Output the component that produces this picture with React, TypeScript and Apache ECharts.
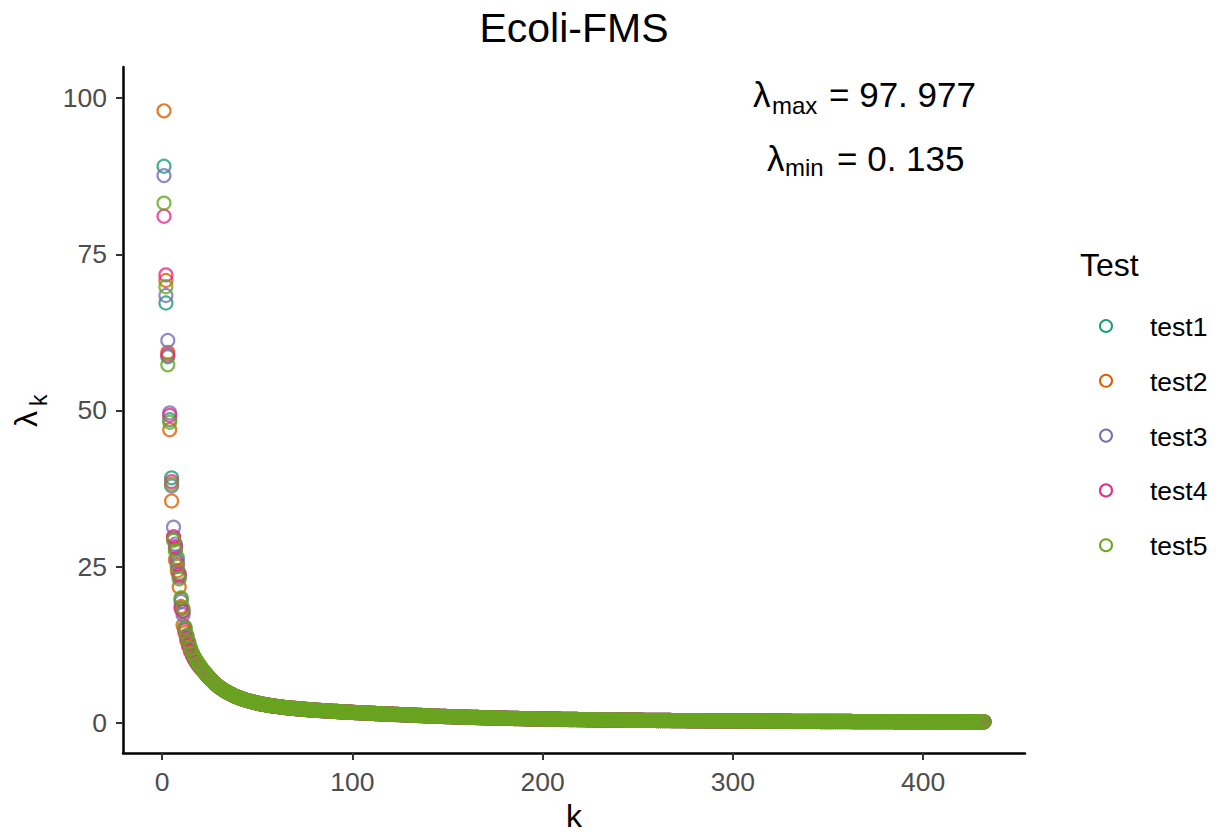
import React, { useEffect, useRef } from "react";
import * as echarts from "echarts";

// ---------- data ----------
const TITLE = "Ecoli-FMS";
const TESTS = ["test1", "test2", "test3", "test4", "test5"];
const COLORS = ["#1B9E77", "#D95F02", "#7570B3", "#E7298A", "#66A61E"];
const X_TICKS = [0, 100, 200, 300, 400];
const Y_TICKS = [0, 25, 50, 75, 100];
const LAMBDA_MAX = "97. 977";
const LAMBDA_MIN = "0. 135";

// eigenvalues for k = 1..20, per test
const HEAD_TEST1 = [89.1, 67.2, 58.6, 48.5, 39.2, 29.4, 27.9, 26.4, 23.9, 19.8, 17.9, 15.3, 13.9, 12.7, 11.8, 11.0, 10.4, 9.8, 9.4, 8.9];
const HEAD_TEST2 = [97.977, 70.8, 59.3, 46.9, 35.5, 29.6, 26.1, 24.3, 21.7, 18.6, 15.6, 14.4, 13.1, 12.2, 11.4, 10.7, 10.1, 9.6, 9.2, 8.8];
const HEAD_TEST3 = [87.6, 68.4, 61.2, 49.6, 37.9, 31.3, 28.6, 25.8, 23.3, 19.4, 17.3, 15.0, 13.7, 12.8, 11.6, 10.9, 10.3, 9.7, 9.3, 8.9];
const HEAD_TEST4 = [81.1, 71.7, 58.9, 49.2, 38.6, 29.8, 28.2, 25.3, 23.6, 18.3, 17.8, 14.8, 13.5, 12.4, 11.5, 10.8, 10.3, 9.9, 9.4, 9.0];
const HEAD_TEST5 = [83.2, 69.8, 57.3, 48.1, 38.2, 29.2, 27.5, 25.0, 23.0, 20.0, 18.3, 15.1, 14.0, 12.9, 11.9, 11.1, 10.5, 10.0, 9.5, 9.1];

// eigenvalues for k = 21..432 (all tests overlap in this range)
const TAIL = [
  8.55, 8.15, 7.8, 7.45, 7.1, 6.8, 6.5, 6.2, 5.95, 5.7,
  5.5, 5.3, 5.1, 4.92, 4.75, 4.6, 4.45, 4.3, 4.17, 4.05,
  3.93, 3.82, 3.72, 3.62, 3.53, 3.44, 3.36, 3.28, 3.2, 3.13,
  3.06, 3.0, 2.94, 2.88, 2.83, 2.78, 2.73, 2.68, 2.64, 2.6,
  2.56, 2.52, 2.48, 2.45, 2.41, 2.38, 2.35, 2.32, 2.29, 2.26,
  2.23, 2.2, 2.18, 2.15, 2.13, 2.1, 2.08, 2.05, 2.03, 2.01,
  1.99, 1.97, 1.95, 1.93, 1.91, 1.89, 1.87, 1.85, 1.83, 1.81,
  1.8, 1.78, 1.76, 1.74, 1.73, 1.71, 1.69, 1.68, 1.66, 1.65,
  1.63, 1.61, 1.6, 1.58, 1.57, 1.55, 1.54, 1.52, 1.51, 1.49,
  1.48, 1.46, 1.45, 1.43, 1.42, 1.41, 1.39, 1.38, 1.37, 1.35,
  1.34, 1.32, 1.31, 1.3, 1.28, 1.27, 1.26, 1.24, 1.23, 1.22,
  1.2, 1.19, 1.18, 1.16, 1.15, 1.14, 1.12, 1.11, 1.1, 1.08,
  1.07, 1.06, 1.05, 1.03, 1.02, 1.01, 1.0, 0.99, 0.98, 0.97,
  0.96, 0.95, 0.94, 0.93, 0.92, 0.91, 0.9, 0.89, 0.88, 0.87,
  0.86, 0.85, 0.84, 0.84, 0.83, 0.82, 0.81, 0.8, 0.79, 0.78,
  0.78, 0.77, 0.76, 0.75, 0.74, 0.74, 0.73, 0.72, 0.71, 0.71,
  0.7, 0.69, 0.69, 0.68, 0.67, 0.67, 0.66, 0.65, 0.65, 0.64,
  0.63, 0.63, 0.62, 0.62, 0.61, 0.6, 0.6, 0.59, 0.59, 0.58,
  0.58, 0.57, 0.57, 0.56, 0.56, 0.55, 0.55, 0.54, 0.54, 0.53,
  0.53, 0.52, 0.52, 0.51, 0.51, 0.5, 0.5, 0.5, 0.49, 0.49,
  0.48, 0.48, 0.47, 0.47, 0.47, 0.46, 0.46, 0.45, 0.45, 0.45,
  0.44, 0.44, 0.44, 0.43, 0.43, 0.43, 0.42, 0.42, 0.42, 0.41,
  0.41, 0.41, 0.4, 0.4, 0.4, 0.39, 0.39, 0.39, 0.38, 0.38,
  0.38, 0.38, 0.37, 0.37, 0.37, 0.36, 0.36, 0.36, 0.36, 0.35,
  0.35, 0.35, 0.35, 0.34, 0.34, 0.34, 0.34, 0.33, 0.33, 0.33,
  0.33, 0.32, 0.32, 0.32, 0.32, 0.31, 0.31, 0.31, 0.31, 0.31,
  0.3, 0.3, 0.3, 0.3, 0.29, 0.29, 0.29, 0.29, 0.29, 0.28,
  0.28, 0.28, 0.28, 0.28, 0.27, 0.27, 0.27, 0.27, 0.27, 0.26,
  0.26, 0.26, 0.26, 0.26, 0.26, 0.25, 0.25, 0.25, 0.25, 0.25,
  0.25, 0.24, 0.24, 0.24, 0.24, 0.24, 0.24, 0.23, 0.23, 0.23,
  0.23, 0.23, 0.23, 0.22, 0.22, 0.22, 0.22, 0.22, 0.22, 0.22,
  0.21, 0.21, 0.21, 0.21, 0.21, 0.21, 0.21, 0.2, 0.2, 0.2,
  0.2, 0.2, 0.2, 0.2, 0.2, 0.19, 0.19, 0.19, 0.19, 0.19,
  0.19, 0.19, 0.19, 0.18, 0.18, 0.18, 0.18, 0.18, 0.18, 0.18,
  0.18, 0.18, 0.17, 0.17, 0.17, 0.17, 0.17, 0.17, 0.17, 0.17,
  0.17, 0.17, 0.16, 0.16, 0.16, 0.16, 0.16, 0.16, 0.16, 0.16,
  0.16, 0.16, 0.16, 0.16, 0.15, 0.15, 0.15, 0.15, 0.15, 0.15,
  0.15, 0.15, 0.15, 0.15, 0.15, 0.15, 0.15, 0.15, 0.14, 0.14,
  0.14, 0.14, 0.14, 0.14, 0.14, 0.14, 0.14, 0.14, 0.14, 0.14,
  0.14, 0.14, 0.14, 0.14, 0.14, 0.14, 0.14, 0.14, 0.14, 0.14,
  0.14, 0.14, 0.14, 0.14, 0.14, 0.14, 0.14, 0.14, 0.14, 0.14, 0.14, 0.135,
];

const HEADS = [HEAD_TEST1, HEAD_TEST2, HEAD_TEST3, HEAD_TEST4, HEAD_TEST5];

const FONT = "'Liberation Sans', Arial, Helvetica, sans-serif";

export default function App() {
  const ref = useRef<HTMLDivElement>(null);

  useEffect(() => {
    document.body.style.margin = "0";
    if (!ref.current) return;
    const chart = echarts.init(ref.current, undefined, { renderer: "svg" });

    const allValues = HEADS.map((h) => h.concat(TAIL));
    const n = allValues[0].length;
    let vmin = Infinity;
    let vmax = -Infinity;
    allValues.forEach((arr) => arr.forEach((v) => { vmin = Math.min(vmin, v); vmax = Math.max(vmax, v); }));
    vmax = Math.max(vmax, 100); // annotation extends the scale to 100
    const xr = n - 1;
    const yr = vmax - vmin;
    const xMin = 1 - 0.05 * xr;
    const xMax = n + 0.05 * xr;
    const yMin = vmin - 0.05 * yr;
    const yMax = vmax + 0.05 * yr;

    const series = TESTS.map((name, i) => ({
      name,
      type: "scatter",
      silent: true,
      symbol: "circle",
      symbolSize: 13,
      itemStyle: { color: "rgba(0,0,0,0)", borderColor: COLORS[i], borderWidth: 2.2 },
      emphasis: { disabled: true },
      data: allValues[i].map((v, j) => [j + 1, v]),
    }));

    const txt = (x: number, y: number, text: string, size: number, align = "left", extra: any = {}, fill = "#000") => ({
      type: "text",
      x,
      y,
      silent: true,
      ...extra,
      style: { text, fontSize: size, fontFamily: FONT, fill, align, verticalAlign: "middle" },
    });

    chart.setOption({
      animation: false,
      backgroundColor: "#fff",
      grid: { left: 123, right: 194, top: 67, bottom: 79, outerBoundsMode: "none" } as any,
      xAxis: {
        type: "value",
        min: xMin,
        max: xMax,
        splitLine: { show: false },
        axisLine: { onZero: false, lineStyle: { color: "#000", width: 2.5 } },
        axisTick: { customValues: X_TICKS, length: 7, lineStyle: { color: "#333", width: 2 } },
        axisLabel: { show: false },
      },
      yAxis: {
        type: "value",
        min: yMin,
        max: yMax,
        splitLine: { show: false },
        axisLine: { onZero: false, lineStyle: { color: "#000", width: 2.5 } },
        axisTick: { customValues: Y_TICKS, length: 7, lineStyle: { color: "#333", width: 2 } },
        axisLabel: { show: false },
      },
      series,
    });

    // tick labels, placed through the axes' own scales
    const toX = (v: number) => {
      const p = chart.convertToPixel({ xAxisIndex: 0 }, v) as any;
      return typeof p === "number" && isFinite(p) ? p : 123 + ((v - xMin) / (xMax - xMin)) * 902;
    };
    const toY = (v: number) => {
      const p = chart.convertToPixel({ yAxisIndex: 0 }, v) as any;
      return typeof p === "number" && isFinite(p) ? p : 753 - ((v - yMin) / (yMax - yMin)) * 686;
    };
    const tickLabels: any[] = [];
    X_TICKS.forEach((v) => tickLabels.push(txt(toX(v), 781.5, String(v), 26.5, "center", {}, "#4D4D4D")));
    Y_TICKS.forEach((v) => tickLabels.push(txt(107, toY(v), String(v), 26.5, "right", {}, "#4D4D4D")));

    const legendItems: any[] = [];
    TESTS.forEach((name, i) => {
      const cy = 326 + i * 54.8;
      legendItems.push({
        type: "circle",
        shape: { cx: 1106, cy, r: 6 },
        style: { fill: "none", stroke: COLORS[i], lineWidth: 2 },
        silent: true,
      });
      legendItems.push(txt(1150, cy + 1, name, 26.5));
    });

    chart.setOption({
      graphic: [
        ...tickLabels,
        txt(574, 28, TITLE, 41, "center"),
        txt(574, 815.5, "k", 32, "center"),
        txt(26, 427, "\u03bb", 32, "left", { rotation: Math.PI / 2 }),
        txt(39, 406, "k", 23, "left", { rotation: Math.PI / 2 }),
        txt(753, 94, "\u03bb", 35),
        txt(772, 105, "max", 24),
        txt(829, 94, "= " + LAMBDA_MAX, 35),
        txt(767, 158, "\u03bb", 35),
        txt(785, 167, "min", 24),
        txt(837, 158, "= " + LAMBDA_MIN, 35),
        txt(1080, 265, "Test", 32),
        ...legendItems,
      ],
    });

    return () => chart.dispose();
  }, []);

  return <div ref={ref} style={{ width: 1219, height: 832 }} />;
}
